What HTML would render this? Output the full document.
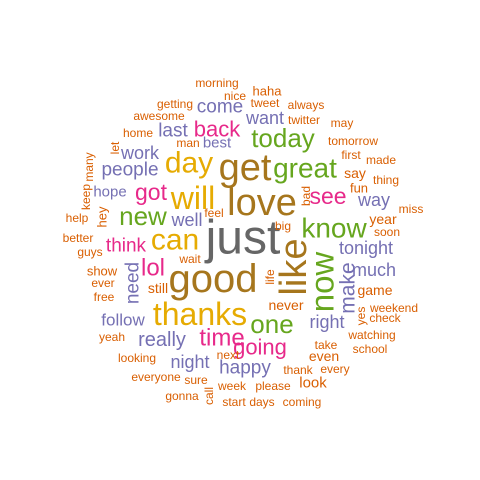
<!DOCTYPE html>
<html><head><meta charset="utf-8"><style>
html,body{margin:0;padding:0;background:#fff;width:480px;height:480px;overflow:hidden}
svg{display:block}
text{font-family:"Liberation Sans",Arial,sans-serif}
</style></head><body>
<svg id="cloud" width="480" height="480" viewBox="0 0 480 480" xmlns="http://www.w3.org/2000/svg"></svg>
<script>
const words=["just","like","love","good","get","thanks","will","can","day","great","know","now","today","one","new","time","going","see","back","got","lol","think","people","work","come","last","best","want","tonight","much","make","way","right","really","night","happy","follow","need","hope","well",
"morning","nice","haha","tweet","always","getting","awesome","home","man","twitter","may","tomorrow","first","made","say","thing","fun","bad","miss","year","soon","big","let","many","keep","hey","help","feel","better","guys","show","ever","free","wait","still","yeah","looking","everyone","sure","gonna","call","next","week","please","start","days","coming","life","never","yes","weekend","check","game","watching","school","take","even","every","thank","look"];
const sizes=[48,38,38,40,38,32,32,30,30,28,28,33,26,26,26,24,22,23,22,23,24,19,19,18,19,19,15,18,18,18,21,18,18,20,18,19,17,19,15,18,
12,12,13,12,12,12,12,12,12,12,12,12,12,12,14,12,13,12,12,14,12,12,12,12,12,13,12,12,12,12,13,12,12,12,14,12,12,12,12,12,12,12,12,12,12,12,12,12,14,12,12,12,14,12,12,12,14,12,12,15,12];
const colorIdx="SBBBBYYYYGGGGGGKKKKKKKPPPPPPPPPPPPPPPPPP";
const xs=[243,294,262,213,245,200,193,175,189,305,334,322,283,272,143,222,260,328,217,151,153,126,130,140,220,173,217,265,366,374,348,374,327,162,190,245,123,133,110,187,
217,235,267,265,306,175,159,138,188,304,342,353,351,381,355,386,359,306,411,383,387,283,115,89,86,102,77,214,78,90,102,103,104,190,158,112,137,156,196,182,209,228,232,273,234,262,302,270,286,361,394,385,375,372,370,326,324,335,298,313];
const ys=[238,267,203,279,168,314,198,240,163,168,228,282,138,324,216,338,347,196,129,192,268,246,170,153,107,131,143,118,248,270,288,200,322,340,362,368,320,283,192,220,
83,96,91,103,105,104,116,133,143,120,123,141,155,160,173,180,188,196,209,219,232,226,148,167,197,217,218,213,238,252,271,283,297,259,288,337,358,377,380,396,396,355,386,386,402,402,402,277,305,316,308,318,290,335,349,345,356,369,370,383];
const rotated=["like","now","make","need","bad","let","many","keep","hey","call","life","yes"];
const palette={S:"#666666",B:"#A6761D",Y:"#E6AB02",G:"#66A61E",K:"#E7298A",P:"#7570B3",O:"#D95F02"};
const svg=document.getElementById('cloud');
words.forEach((w,i)=>{
  const t=document.createElementNS('http://www.w3.org/2000/svg','text');
  
  
  t.setAttribute('x',xs[i]);t.setAttribute('y',ys[i]);
  t.setAttribute('font-size',sizes[i]);
  t.setAttribute('text-anchor','middle');
  t.setAttribute('dominant-baseline','central');
  t.setAttribute('fill',palette[colorIdx[i]||'O']);
  if(rotated.includes(w))t.setAttribute('transform','rotate(-90 '+xs[i]+' '+ys[i]+')');
  t.textContent=w;
  svg.appendChild(t);
});
</script>
</body></html>
